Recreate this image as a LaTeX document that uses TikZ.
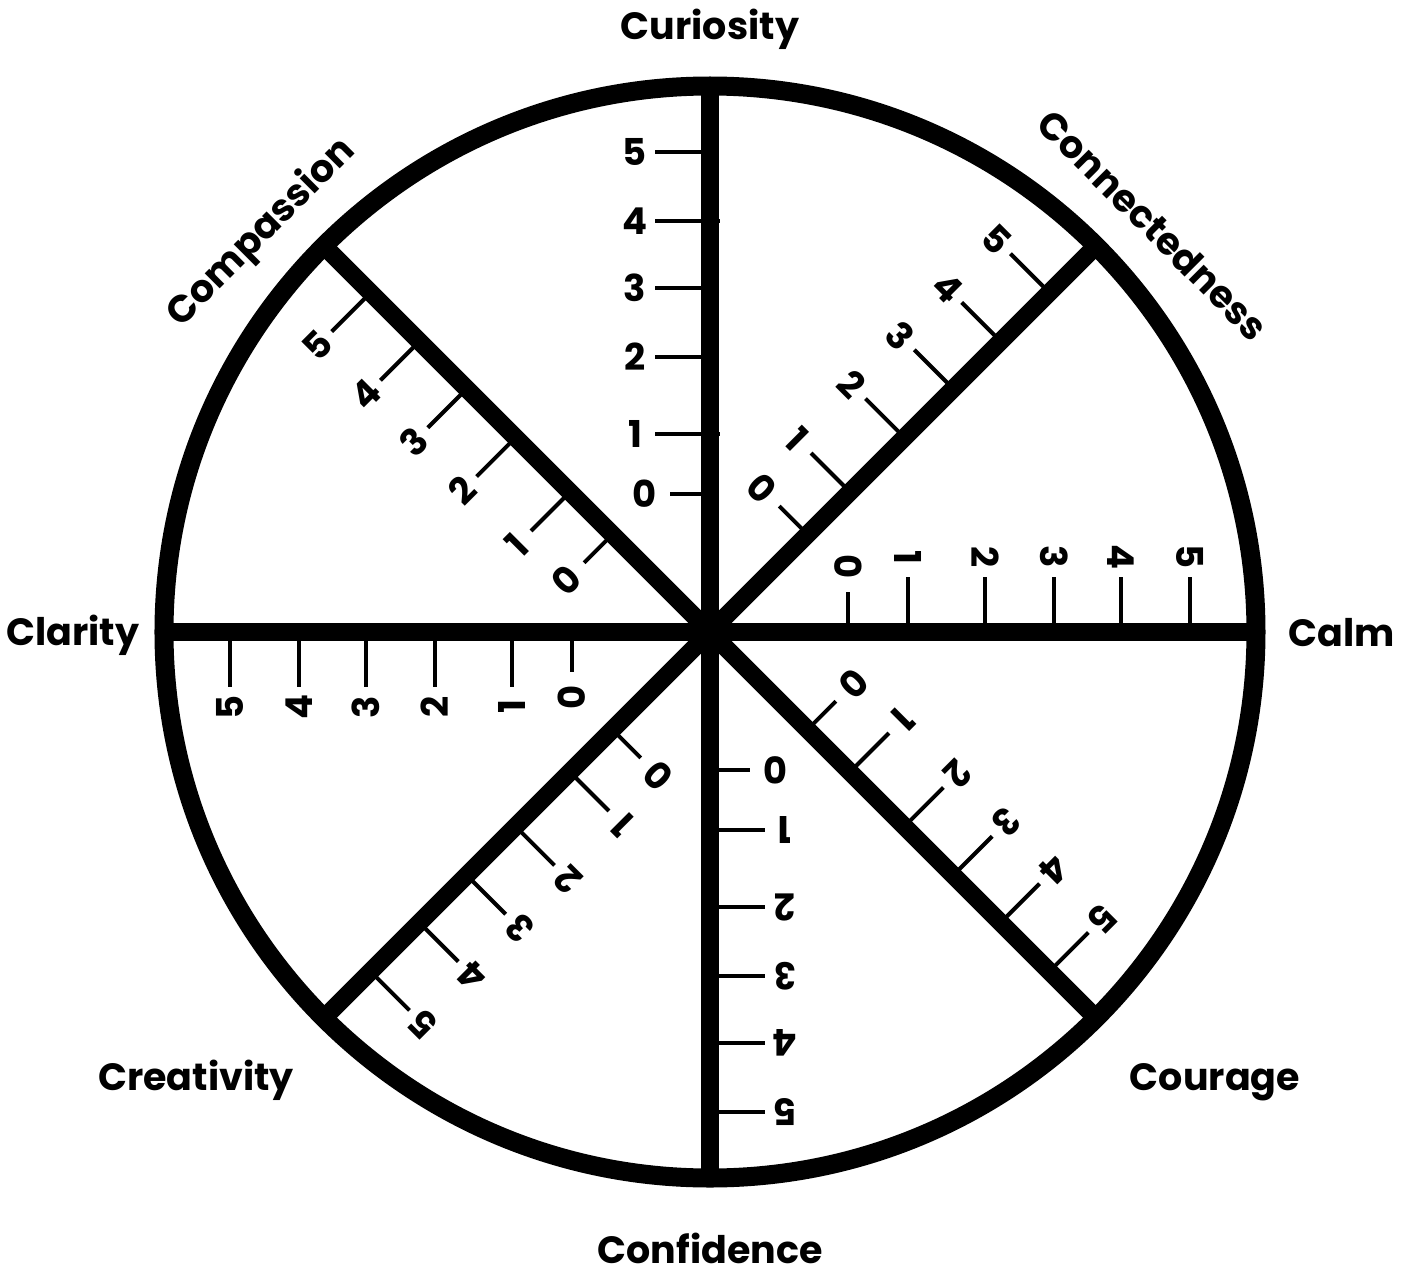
\documentclass[tikz,border=0pt]{standalone}
\usepackage{fontspec}
\setmainfont{Poppins}
\begin{document}
\begin{tikzpicture}[x=1pt,y=1pt,
  ring/.style={line width=19pt},
  spoke/.style={line width=18pt},
  tick/.style={line width=4pt},
  num/.style={font=\fontsize{37}{40}\selectfont\bfseries, inner sep=0pt},
  cat/.style={font=\fontsize{38}{44}\selectfont\bfseries, inner sep=0pt}]
\useasboundingbox (-710,-638) rectangle (698,632);
\coordinate (O) at (0,0);
% ticks and numbers
\foreach \a/\s in {90/cur,45/con,0/calm,-45/cou,-90/conf,-135/cre,180/cla,135/com}{
  \begin{scope}[rotate=\a-90]
    \foreach \k/\r/\t/\p in {0/138/40/65,1/198/55/75,2/275/55/75,3/344/55/75,4/411/55/75,5/480/55/75}{
      \draw[tick] (0,\r) -- (-\t,\r);
      \node[num, rotate=\a-90] (\s-\k) at (-\p,\r) {\k};
    }
  \end{scope}
}
% small nubs crossing the Curiosity spoke
\draw[tick] (10,198) -- (0,198);
\draw[tick] (10,411) -- (0,411);
% spokes
\foreach \a in {90,45,0,-45}{
  \coordinate (e\a) at (\a:546pt);
  \coordinate (f\a) at (\a+180:546pt);
  \draw[spoke] (e\a) -- (f\a);
}
% ring
\draw[ring] (O) circle (546pt);
% category labels
\node[cat, anchor=base] (curiosity) at (0,592) {Curiosity};
\node[cat, rotate=-45] (connectedness) at (443,407) {Connectedness};
\node[cat, anchor=base] (calm) at (632,-14) {Calm};
\node[cat, anchor=base] (courage) at (505,-458) {Courage};
\node[cat, anchor=base] (confidence) at (0,-631) {Confidence};
\node[cat, anchor=base] (creativity) at (-514,-458) {Creativity};
\node[cat, anchor=base] (clarity) at (-637,-13) {Clarity};
\node[cat, rotate=45] (compassion) at (-448,399) {Compassion};
\end{tikzpicture}
\end{document}
